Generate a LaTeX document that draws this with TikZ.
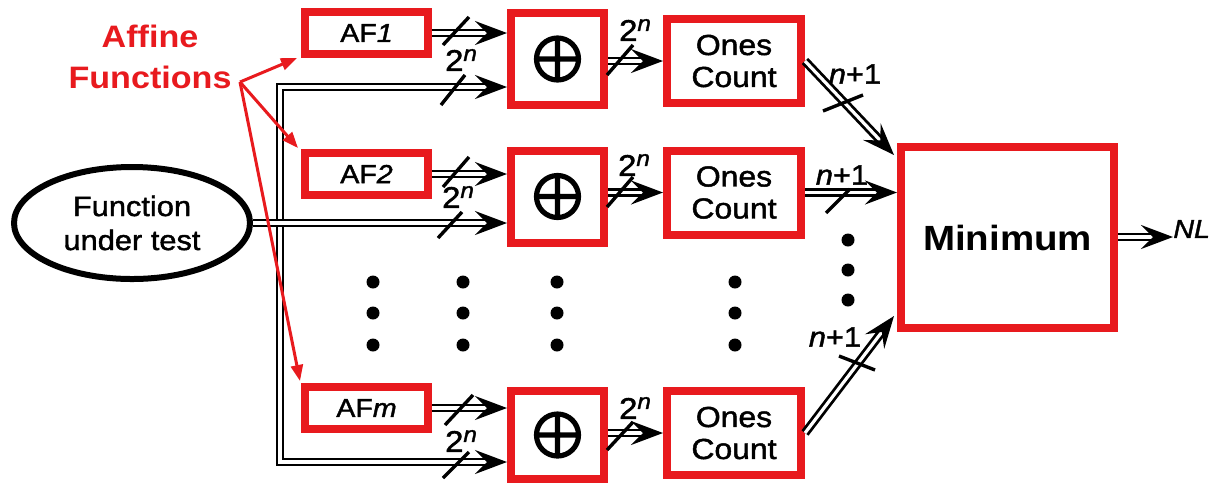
\documentclass[tikz,border=0pt]{standalone}
\usepackage{fontspec}
\setmainfont{Liberation Sans}[FakeStretch=1.1]
\newfontfamily\medfont{Liberation Sans}[FakeStretch=1.1,FakeBold=1.6]
\usetikzlibrary{arrows.meta,shapes.geometric,calc}
\definecolor{boxred}{RGB}{232,26,30}
\newcommand\twon{2\raisebox{5pt}{\fontsize{11}{11}\selectfont\itshape n}}
\newcommand\npo{{\itshape n}+1}
\begin{document}
\begin{tikzpicture}[x=0.5pt,y=-0.5pt,
  redbox/.style={draw=boxred,line width=4pt,fill=white,inner sep=0pt,align=center},
  afbox/.style={redbox,minimum width=61.5pt,minimum height=21pt,font=\medfont\fontsize{13}{15}\selectfont},
  xorbox/.style={redbox,minimum width=46.5pt,minimum height=46pt,
    path picture={\draw[draw=black,line width=2.6pt] (path picture bounding box.center) circle[radius=10.5pt]
      ($(path picture bounding box.center)+(-21,0)$) -- ($(path picture bounding box.center)+(21,0)$)
      ($(path picture bounding box.center)+(0,-21)$) -- ($(path picture bounding box.center)+(0,21)$);}},
  ocbox/.style={redbox,minimum width=67pt,minimum height=42pt,font=\medfont\fontsize{14.5}{16}\selectfont},
  bus/.style={double,draw=black,line width=1.4pt,double distance=1.6pt},
  busarrow/.style={bus,-{Stealth[length=16pt,width=12pt,inset=6pt]}},
  slash/.style={line width=1.7pt},
  lbl/.style={inner sep=0pt,font=\medfont\fontsize{15}{15}\selectfont},
  redarrow/.style={draw=boxred,line width=1.5pt,-{Triangle[length=8pt,width=6pt]}},
  dotmark/.style={fill=black}
]
\useasboundingbox (0,0) rectangle (1225,484);

% annotation
\node[text=boxred,font=\fontsize{15.5}{20.5}\selectfont\bfseries,align=center,inner sep=0pt] (afftxt) at (150,57) {Affine\\Functions};
\coordinate (aff) at (240,82);

% function under test
\node[draw,ellipse,line width=3pt,minimum width=118pt,minimum height=56pt,inner sep=0pt,align=center,font=\medfont\fontsize{14}{17}\selectfont] (fut) at (132,223) {Function\\under test};

% affine function boxes
\node[afbox] (af1) at (366.5,33) {AF{\itshape 1}};
\node[afbox] (af2) at (366.5,174) {AF{\itshape 2}};
\node[afbox] (afm) at (366.5,408) {AF{\itshape m}};

% xor boxes
\node[xorbox] (x1) at (557.5,59) {};
\node[xorbox] (x2) at (557.5,196.5) {};
\node[xorbox,minimum height=44pt] (x3) at (557.5,435) {};

% ones count
\node[ocbox] (oc1) at (734,61) {Ones\\Count};
\node[ocbox] (oc2) at (734,192.5) {Ones\\Count};
\node[ocbox] (oc3) at (734,433) {Ones\\Count};

% minimum
\node[redbox,minimum width=106.5pt,minimum height=90.5pt,font=\fontsize{17.5}{20}\selectfont\bfseries] (mn) at (1007.5,237.5) {Minimum};
\node[inner sep=0pt,anchor=west,font=\medfont\fontsize{13}{15}\selectfont\itshape] (nl) at (1173,229) {NL};

% bus from function under test
\coordinate (bt) at (280,87);
\coordinate (bb) at (280,462);
\draw[bus,{Stealth[length=16pt,width=12pt,inset=6pt]}-{Stealth[length=16pt,width=12pt,inset=6pt]}] (x1.west |- bt) -- (bt) -- (bb) -- (x3.west |- bb);
\draw[busarrow] (fut.east) -- (fut.east -| x2.west);

% AF -> XOR
\draw[busarrow] (af1.east) -- (af1.east -| x1.west);
\draw[busarrow] (af2.east) -- (af2.east -| x2.west);
\draw[busarrow] (afm.east) -- (afm.east -| x3.west);

% XOR -> ones count
\draw[busarrow] (x1.east |- oc1.west) -- (oc1.west);
\draw[busarrow] (x2.east |- oc2.west) -- (oc2.west);
\draw[busarrow] (x3.east |- oc3.west) -- (oc3.west);

% ones count -> minimum
\coordinate (m1) at ($(mn.north west)+(-3,12)$);
\coordinate (m3) at ($(mn.south west)+(-3,-16)$);
\draw[busarrow] (oc1.east) -- (m1);
\draw[busarrow] (oc2.east) -- (oc2.east -| mn.west);
\draw[busarrow] (oc3.east) -- (m3);
\draw[busarrow] (mn.east |- 0,237) -- (nl.west |- 0,237);

% red annotation arrows
\draw[redarrow] (aff) -- ($(af1.south west)+(-4,0)$);
\draw[redarrow] (aff) -- ($(af2.north west)+(-3,-1)$);
\draw[redarrow] (aff) -- ($(afm.north west)+(-1,-2)$);

% slashes and width labels
\foreach \c/\v in {{456,31}/{13,-14},{453,90}/{12,-15},{620,60}/{13,-15},
                   {456,172}/{13,-15},{450,225}/{12,-13},{620,192}/{13,-15},
                   {459,410}/{14,-15},{456,465}/{13,-13},{620,436}/{13,-14}}
  \draw[slash] ($(\c)-(\v)$) -- ($(\c)+(\v)$);
\draw[slash] (823,111) -- (863,95);
\draw[slash] (826,213) -- (850,189);
\draw[slash] (839,356) -- (875,370);

\node[lbl] (l1) at (461,60) {\twon};
\node[lbl] (l2) at (635,30) {\twon};
\node[lbl] (l3) at (458,197) {\twon};
\node[lbl] (l4) at (634,165) {\twon};
\node[lbl] (l5) at (461,441) {\twon};
\node[lbl] (l6) at (635,408) {\twon};
\node[lbl,font=\medfont\fontsize{14}{14}\selectfont] (k1) at (855,74) {\npo};
\node[lbl,font=\medfont\fontsize{14}{14}\selectfont] (k2) at (842,175) {\npo};
\node[lbl,font=\medfont\fontsize{14}{14}\selectfont] (k3) at (835,337) {\npo};

% dots
\foreach \x in {373,463,557,735}
  \foreach \y in {282,313,345}
    \fill[dotmark] (\x,\y) circle[radius=3.25pt];
\foreach \y in {240,270,300}
  \fill[dotmark] (848,\y) circle[radius=3.25pt];
\end{tikzpicture}
\end{document}
